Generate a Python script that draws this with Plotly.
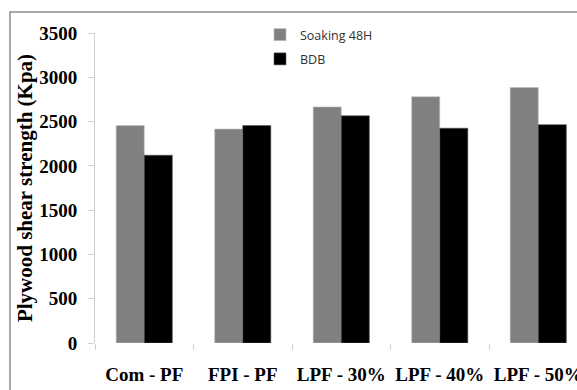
import plotly.graph_objects as go

categories = ["Com - PF", "FPI - PF", "LPF - 30%", "LPF - 40%", "LPF - 50%"]
soaking_48h = [2455, 2415, 2665, 2780, 2885]
bdb = [2120, 2455, 2565, 2425, 2465]
y_ticks = [0, 500, 1000, 1500, 2000, 2500, 3000, 3500]

W, H = 577, 390
L, R, T, B = 95, 0, 33, 47
pw = W - L - R
ph = H - T - B
cat_px = 98.5
x_max = -0.5 + pw / cat_px

fig = go.Figure()
fig.add_trace(go.Bar(name="Soaking 48H", x=categories, y=soaking_48h,
                     marker=dict(color="#808080", line=dict(width=0.6, color="#bdbdbd")),
                     legendgroup="a"))
fig.add_trace(go.Bar(name="BDB", x=categories, y=bdb,
                     marker=dict(color="#000000", line=dict(width=0.6, color="#555555")),
                     legendgroup="b"))

fig.update_layout(
    width=W, height=H,
    margin=dict(l=L, r=R, t=T, b=B, autoexpand=False),
    barmode="group", bargap=0.43, bargroupgap=0,
    paper_bgcolor="white", plot_bgcolor="rgba(0,0,0,0)",
    font=dict(family="Liberation Serif", color="#000"),
    legend=dict(x=(260 - L) / pw, y=(343 - 20) / ph, xanchor="left", yanchor="top",
                bgcolor="rgba(0,0,0,0)", font=dict(family="Open Sans", size=12.5, color="#333"),
                itemwidth=30, tracegroupgap=5),
    xaxis=dict(range=[-0.5, x_max], type="category", showline=False,
               ticks="outside", tickson="boundaries", ticklen=6, tickcolor="#d0d0d0",
               tickfont=dict(family="Liberation Serif", size=19, color="#000", weight="bold"),
               ticklabelstandoff=18, showgrid=False, zeroline=False),
    yaxis=dict(range=[0, 3500], tickvals=y_ticks, showline=True, linecolor="#d0d0d0", linewidth=1,
               ticks="outside", ticklen=6, tickcolor="#d0d0d0", showgrid=False, zeroline=False,
               tickfont=dict(family="Liberation Serif", size=19, color="#000", weight="bold"),
               ticklabelstandoff=7,
               title=dict(text="Plywood shear strength (Kpa)", standoff=0,
                          font=dict(family="Liberation Serif", size=21, color="#000", weight="bold"))),
)

# outer chart frame (cropped on right and bottom in the reference)
fig.add_shape(type="rect", xref="paper", yref="paper",
              x0=(10 - L) / pw, x1=(W + 20 - L) / pw,
              y0=(H - B - (H + 20)) / ph, y1=(H - B - 12) / ph,
              line=dict(color="#8a8a8a", width=1.5), fillcolor="rgba(0,0,0,0)", layer="above")

fig.write_html("out.html", config={"displayModeBar": False},
               post_script="document.body.style.margin='0';")
